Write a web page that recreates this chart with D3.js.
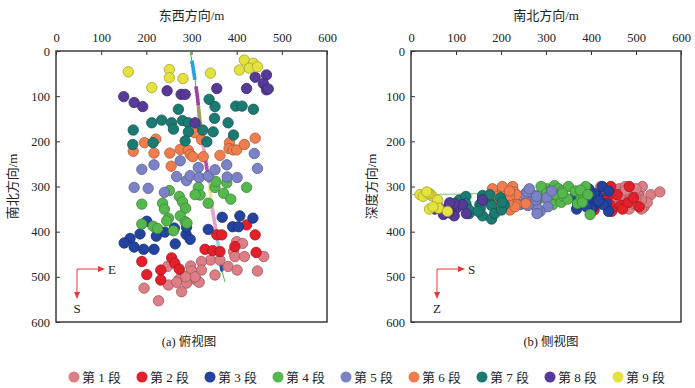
<!DOCTYPE html>
<html>
<head>
<meta charset="utf-8">
<script src="https://cdn.jsdelivr.net/npm/d3@7"></script>
<style>
  body { margin: 0; background: #fff; }
  text { font-family: "Liberation Serif", "Noto Sans CJK SC", serif; fill: #222; }
</style>
</head>
<body>
<script>
// events per stage: [east, south, depth] in metres
const stage1 = [[400,422,300],[413,426,318],[393,444,330],[396,455,345],[417,455,312],[460,455,328],[342,463,340],[363,463,305],[381,477,322],[401,485,350],[446,487,310],[352,496,338],[322,466,318],[322,485,335],[298,476,300],[300,487,325],[297,505,342],[311,507,315],[282,498,330],[273,505,320],[247,477,308],[249,518,345],[289,514,300],[278,533,318],[195,525,335],[227,553,312],[317,512,330],[267,512,350],[308,500,305],[287,500,325]];
const stage2 = [[422,385,310],[356,407,330],[367,407,345],[441,407,352],[330,439,320],[347,442,340],[363,444,300],[396,433,332],[443,446,355],[190,466,342],[256,458,318],[263,470,350],[273,483,335],[232,485,300],[201,495,325],[232,507,345]];
const stage3 = [[201,377,330],[164,415,320],[186,405,345],[151,425,300],[173,434,338],[194,439,355],[217,439,310],[222,410,325],[241,401,350],[264,427,340],[288,406,315],[297,417,332],[337,395,305],[368,368,350],[407,365,320],[436,370,340],[391,389,312],[404,389,330],[289,390,345],[262,392,325]];
const stage4 = [[251,309,320],[315,302,305],[319,319,298],[308,318,330],[352,302,312],[354,289,300],[378,292,325],[422,302,315],[371,315,340],[387,328,305],[273,322,318],[280,334,335],[236,337,310],[190,339,322],[240,350,300],[287,348,328],[337,337,315],[249,370,338],[275,365,310],[286,378,325],[215,388,300],[190,383,320],[260,398,362],[245,376,308],[290,381,335],[225,393,318]];
const stage5 = [[190,262,330],[217,252,318],[275,243,340],[173,302,325],[204,304,345],[240,313,310],[267,278,335],[289,287,355],[297,276,320],[315,258,312],[317,280,348],[337,277,330],[352,263,305],[378,252,338],[379,279,322],[401,280,360],[439,227,325],[446,260,342]];
const stage6 = [[171,222,330],[196,203,310],[221,195,345],[217,226,318],[252,226,300],[255,255,338],[275,218,325],[293,220,352],[297,229,312],[303,234,340],[307,181,305],[322,196,328],[326,234,318],[363,231,345],[384,203,300],[383,216,335],[392,219,320],[400,219,310],[417,207,342],[441,193,322]];
const stage7 = [[339,107,330],[352,123,345],[271,129,360],[398,122,322],[412,122,338],[437,129,352],[212,159,325],[234,153,340],[256,159,365],[260,173,330],[280,154,348],[293,159,320],[293,179,372],[325,175,335],[351,149,355],[348,179,342],[381,159,328],[393,186,360],[171,175,318],[170,207,340],[286,199,325],[334,201,352],[215,203,335]];
const stage8 = [[150,101,348],[173,114,340],[192,123,360],[246,88,352],[277,96,338],[286,96,365],[356,83,345],[422,83,355],[441,58,340],[466,53,350],[459,72,362],[466,86,336],[470,84,358],[308,159,330]];
const stage9 = [[160,46,320],[251,41,350],[251,59,330],[281,61,348],[212,81,355],[342,49,345],[417,20,318],[406,42,316],[437,27,322],[428,38,315],[446,35,312]];

const stages = [stage1, stage2, stage3, stage4, stage5, stage6, stage7, stage8, stage9];
const stageColors = ['#dd7d85', '#e3202a', '#23439e', '#55b84c', '#7b82c6', '#ef7d4e', '#1b7a72', '#553a98', '#e4e23e'];
const legendLabels = ['第 1 段', '第 2 段', '第 3 段', '第 4 段', '第 5 段', '第 6 段', '第 7 段', '第 8 段', '第 9 段'];
const tickValues = [0, 100, 200, 300, 400, 500, 600];

// well path in plan view [east, south], and side view [south, depth]
const wellPlan = [[297,0],[304,40],[313,100],[318,150],[326,210],[334,260],[340,300],[346,350],[355,400],[362,450],[368,490],[374,511]];
const wellSide = [[0,318],[100,317],[300,312],[511,306]];
// perforation clusters along the well: [southFrom, southTo, colour]
const perfs = [[25,60,'#2c9fd9'],[82,122,'#a23e9e'],[126,168,'#9c9c62'],[195,235,'#eaa2c6'],[245,290,'#b54cb0'],[300,330,'#e9e79c'],[345,395,'#e3a4d2'],[420,440,'#94d7e6']];
const perfBlue = [450, 485];

window.onload = () => {
    const width = 695;
    const height = 388;

    const svg = d3.select('body')
                  .append('svg')
                  .attr('width', width)
                  .attr('height', height);

    const left = {x0: 56, x1: 327, y0: 51, y1: 322};
    const right = {x0: 411, x1: 681, y0: 51, y1: 322};

    const pl = drawFrame(svg, left, '东西方向/m', '南北方向/m', '(a) 俯视图', 189, 12);
    const pr = drawFrame(svg, right, '南北方向/m', '深度方向/m', '(b) 侧视图', 551, 371);

    // plan view well path
    const line1 = d3.line().x(d => pl.x(d[0])).y(d => pl.y(d[1]));
    svg.append('path')
       .attr('d', line1(wellPlan))
       .attr('fill', 'none')
       .attr('stroke', '#3cbf3c')
       .attr('stroke-width', 1);

    const eastAt = d3.scaleLinear()
                     .domain(wellPlan.map(d => d[1]))
                     .range(wellPlan.map(d => d[0]));

    perfs.forEach(p => {
        const pts = d3.range(p[0], p[1] + 0.1, 7);
        svg.append('g')
           .selectAll('rect')
           .data(pts)
           .enter()
           .append('rect')
           .attr('x', s => pl.x(eastAt(s)) - 1.8)
           .attr('y', s => pl.y(s) - 1.8)
           .attr('width', 3.6)
           .attr('height', 3.6)
           .attr('fill', p[2]);
    });
    svg.append('line')
       .attr('x1', pl.x(eastAt(perfBlue[0]))).attr('y1', pl.y(perfBlue[0]))
       .attr('x2', pl.x(eastAt(perfBlue[1]))).attr('y2', pl.y(perfBlue[1]))
       .attr('stroke', '#2050b0')
       .attr('stroke-width', 3.5)
       .attr('stroke-linecap', 'round');

    // side view well path
    const line2 = d3.line().x(d => pr.x(d[0])).y(d => pr.y(d[1]));
    svg.append('path')
       .attr('d', line2(wellSide))
       .attr('fill', 'none')
       .attr('stroke', '#7cc77c')
       .attr('stroke-width', 1);

    // events
    stages.forEach((st, i) => {
        const c = stageColors[i];
        const stroke = d3.color(c).darker(0.9);
        svg.append('g')
           .selectAll('circle')
           .data(st)
           .enter()
           .append('circle')
           .attr('cx', d => pl.x(d[0]))
           .attr('cy', d => pl.y(d[1]))
           .attr('r', 5.2)
           .attr('fill', c)
           .attr('stroke', stroke)
           .attr('stroke-width', 0.8);
        svg.append('g')
           .selectAll('circle')
           .data(st)
           .enter()
           .append('circle')
           .attr('cx', d => pr.x(d[1]))
           .attr('cy', d => pr.y(d[2]))
           .attr('r', 5.2)
           .attr('fill', c)
           .attr('stroke', stroke)
           .attr('stroke-width', 0.8);
    });

    // direction arrows
    appendArrows(svg, 77, 269, 'E', 'S');
    appendArrows(svg, 437, 269, 'S', 'Z');

    // legend
    const legend = svg.append('g')
                      .selectAll('g')
                      .data(legendLabels)
                      .enter()
                      .append('g')
                      .style('transform', (d, i) => `translate(${74 + i * 68}px, 377px)`);
    legend.append('circle')
          .attr('r', 5.5)
          .attr('fill', (d, i) => stageColors[i]);
    legend.append('text')
          .text(d => d)
          .attr('x', 8)
          .attr('y', 5)
          .style('font-size', '13px');
};

const drawFrame = (svg, box, xTitle, yTitle, caption, capX, yTitleX) => {
    const x = d3.scaleLinear().domain([0, 600]).range([box.x0, box.x1]);
    const y = d3.scaleLinear().domain([0, 600]).range([box.y0, box.y1]);

    const gx = svg.append('g')
                  .style('transform', `translate(0px, ${box.y0}px)`)
                  .call(d3.axisTop(x).tickValues(tickValues).tickSizeInner(-4).tickSizeOuter(0).tickPadding(9));
    const gy = svg.append('g')
                  .style('transform', `translate(${box.x0}px, 0px)`)
                  .call(d3.axisLeft(y).tickValues(tickValues).tickSizeInner(-4).tickSizeOuter(0).tickPadding(6));
    [gx, gy].forEach(g => {
        g.select('.domain').remove();
        g.selectAll('line').attr('stroke', '#333');
        g.selectAll('text')
         .style('font-size', '12.5px')
         .style('font-family', '"Liberation Serif", serif')
         .attr('fill', '#222');
    });

    svg.append('rect')
       .attr('x', box.x0)
       .attr('y', box.y0)
       .attr('width', box.x1 - box.x0)
       .attr('height', box.y1 - box.y0)
       .attr('fill', 'none')
       .attr('stroke', '#3a3a3a')
       .attr('stroke-width', 1.5);

    svg.append('text')
       .text(xTitle)
       .attr('x', (box.x0 + box.x1) / 2)
       .attr('y', 20)
       .attr('text-anchor', 'middle')
       .style('font-size', '13px');

    svg.append('text')
       .text(yTitle)
       .attr('text-anchor', 'middle')
       .style('font-size', '13px')
       .style('transform', `translate(${yTitleX + 5}px, ${(box.y0 + box.y1) / 2}px) rotate(-90deg)`);

    svg.append('text')
       .text(caption)
       .attr('x', capX)
       .attr('y', 346)
       .attr('text-anchor', 'middle')
       .style('font-size', '12.5px');

    return {x, y};
};

const appendArrows = (svg, x, y, hLabel, vLabel) => {
    const red = '#e8383a';
    const g = svg.append('g');
    g.append('path')
     .attr('d', `M ${x} ${y + 24} L ${x} ${y} L ${x + 22} ${y}`)
     .attr('fill', 'none')
     .attr('stroke', red)
     .attr('stroke-width', 1);
    g.append('polygon')
     .attr('points', `${x + 28},${y} ${x + 21},${y - 3} ${x + 21},${y + 3}`)
     .attr('fill', red);
    g.append('polygon')
     .attr('points', `${x},${y + 30} ${x - 3},${y + 23} ${x + 3},${y + 23}`)
     .attr('fill', red);
    g.append('text')
     .text(hLabel)
     .attr('x', x + 31)
     .attr('y', y + 5)
     .style('font-size', '13px');
    g.append('text')
     .text(vLabel)
     .attr('x', x)
     .attr('y', y + 44)
     .attr('text-anchor', 'middle')
     .style('font-size', '13px');
};
</script>
</body>
</html>
